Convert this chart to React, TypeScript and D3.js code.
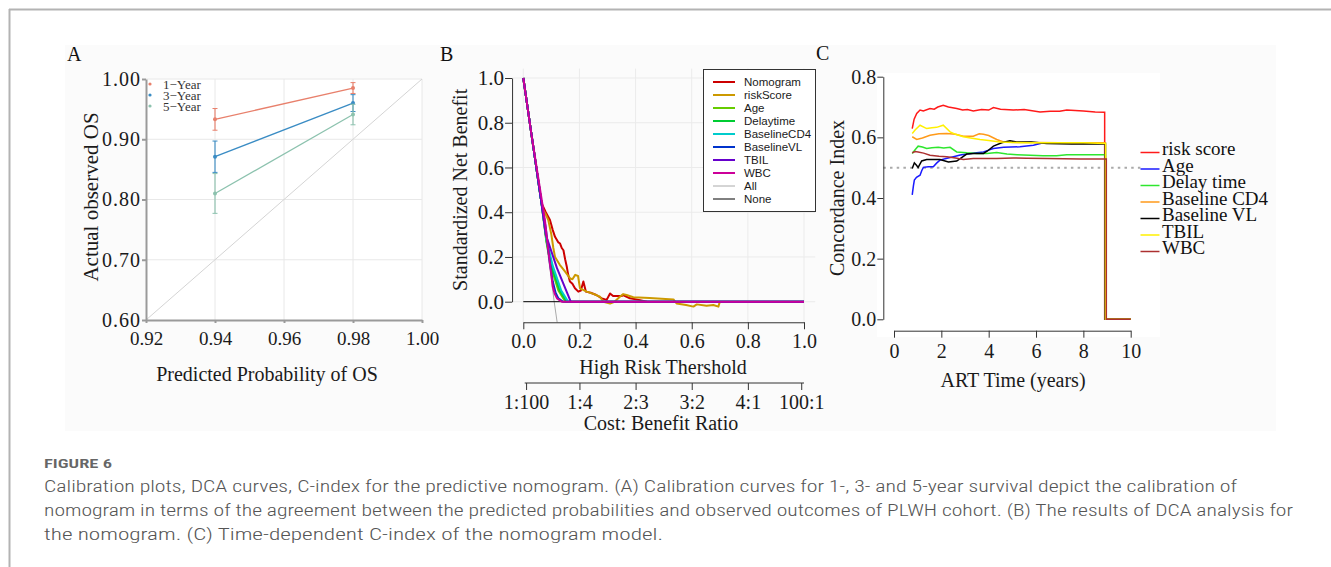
import React, { useEffect, useRef } from 'react';
import * as d3 from 'd3';

type Pt = [number, number];

// ---- Panel A: calibration curves ----
const calNames = ['1−Year', '3−Year', '5−Year'];
const calColors = ['#e8806c', '#3a8cc4', '#8cc2ae'];
const calPredicted = [0.94, 0.98];
const calObserved = [
  [0.933, 0.985],
  [0.871, 0.96],
  [0.81, 0.941],
];
const calLower = [
  [0.915, 0.976],
  [0.845, 0.946],
  [0.777, 0.924],
];
const calUpper = [
  [0.951, 0.994],
  [0.897, 0.974],
  [0.843, 0.958],
];
const calXTicks = [0.92, 0.94, 0.96, 0.98, 1.0];
const calYTicks = [0.6, 0.7, 0.8, 0.9, 1.0];

// ---- Panel B: decision curves ----
const dcaNames = ['Nomogram', 'riskScore', 'Age', 'Delaytime', 'BaselineCD4', 'BaselineVL', 'TBIL', 'WBC', 'All', 'None'];
const dcaColors = ['#cc0000', '#cc9900', '#66cc00', '#00cc33', '#00cccc', '#0033cc', '#6600cc', '#cc0099', '#aaaaaa', '#000000'];
const nbNomogram: Pt[] = [
  [0, 1], [0.03, 0.74], [0.065, 0.44], [0.08, 0.4], [0.095, 0.365], [0.105, 0.32], [0.113, 0.29],
  [0.125, 0.265], [0.131, 0.26], [0.137, 0.24], [0.143, 0.23], [0.149, 0.19], [0.155, 0.156],
  [0.16, 0.12], [0.166, 0.09], [0.175, 0.08], [0.184, 0.06], [0.196, 0.045], [0.205, 0.05],
  [0.214, 0.09], [0.218, 0.07], [0.223, 0.045], [0.24, 0.04], [0.26, 0.03], [0.28, 0.015],
  [0.297, 0.008], [0.309, 0.037], [0.32, 0.025], [0.35, 0.025], [0.355, 0.03], [0.38, 0.015],
  [0.416, 0.007], [0.44, 0],
];
const nbRiskScore: Pt[] = [
  [0, 1], [0.03, 0.74], [0.065, 0.44], [0.071, 0.41], [0.08, 0.39], [0.089, 0.365], [0.1, 0.3],
  [0.107, 0.24], [0.113, 0.2], [0.13, 0.165], [0.149, 0.134], [0.166, 0.105], [0.175, 0.1],
  [0.185, 0.12], [0.195, 0.115], [0.202, 0.06], [0.226, 0.045], [0.25, 0.035], [0.273, 0.022],
  [0.285, 0], [0.309, -0.008], [0.325, 0], [0.344, 0.022], [0.356, 0.034], [0.368, 0.03],
  [0.392, 0.02], [0.45, 0.016], [0.535, 0.01], [0.546, -0.008], [0.58, -0.015], [0.606, -0.022],
  [0.618, -0.012], [0.653, -0.018], [0.677, -0.015], [0.695, -0.022], [0.7, 0],
];
const nbAge: Pt[] = [[0, 1], [0.03, 0.74], [0.065, 0.44], [0.082, 0.27], [0.1, 0.15], [0.125, 0.05], [0.15, 0], [1, 0]];
const nbDelaytime: Pt[] = [[0, 1], [0.03, 0.74], [0.065, 0.44], [0.083, 0.27], [0.1, 0.16], [0.13, 0.05], [0.155, 0], [1, 0]];
const nbBaselineCD4: Pt[] = [[0, 1], [0.03, 0.74], [0.065, 0.44], [0.084, 0.27], [0.105, 0.16], [0.135, 0.05], [0.16, 0], [1, 0]];
const nbBaselineVL: Pt[] = [[0, 1], [0.03, 0.74], [0.065, 0.44], [0.08, 0.33], [0.095, 0.17], [0.105, 0.09], [0.115, 0.04], [0.125, 0.015], [0.142, 0], [1, 0]];
const nbTBIL: Pt[] = [[0, 1], [0.03, 0.74], [0.065, 0.44], [0.08, 0.3], [0.12, 0.15], [0.169, 0], [1, 0]];
const nbWBC: Pt[] = [[0, 1], [0.03, 0.74], [0.077, 0.365], [0.09, 0.22], [0.1, 0.12], [0.105, 0.067], [0.112, 0.035], [0.12, 0.015], [0.137, 0], [1, 0]];
const nbAll: Pt[] = [[0, 1], [0.05, 0.56], [0.1, 0.1], [0.11, 0], [0.125, -0.13]];
const nbNone: Pt[] = [[0, 0], [1, 0]];
const dcaTicks = [0, 0.2, 0.4, 0.6, 0.8, 1.0];
const costThresholds = [1 / 101, 0.2, 0.4, 0.6, 0.8, 100 / 101];
const costLabels = ['1:100', '1:4', '2:3', '3:2', '4:1', '100:1'];

// ---- Panel C: time-dependent C-index ----
const cNames = ['risk score', 'Age', 'Delay time', 'Baseline CD4', 'Baseline VL', 'TBIL', 'WBC'];
const cColors = ['#ff1a1a', '#1a1aff', '#2ee62e', '#ff9a1a', '#000000', '#fff000', '#ac3030'];
const cRiskScore: Pt[] = [
  [0.77, 0.629], [0.85, 0.66], [0.96, 0.679], [1.1, 0.69], [1.24, 0.687], [1.52, 0.695], [1.7, 0.693],
  [1.85, 0.7], [2.08, 0.706], [2.3, 0.7], [2.65, 0.695], [2.9, 0.69], [3.1, 0.692], [3.35, 0.687],
  [3.7, 0.692], [4.0, 0.69], [4.2, 0.698], [4.5, 0.693], [5.04, 0.69], [5.5, 0.692], [6.17, 0.684],
  [6.6, 0.686], [7.0, 0.686], [7.3, 0.69], [8.0, 0.687], [8.5, 0.684], [8.9, 0.683], [8.9, 0], [10, 0],
];
const cAge: Pt[] = [
  [0.77, 0.41], [0.82, 0.44], [0.86, 0.459], [0.95, 0.468], [1.1, 0.475], [1.17, 0.49], [1.24, 0.501],
  [1.45, 0.503], [1.66, 0.503], [1.8, 0.515], [1.94, 0.525], [2.2, 0.53], [2.51, 0.536], [2.8, 0.542],
  [3.07, 0.545], [3.4, 0.548], [3.78, 0.552], [4.0, 0.558], [4.2, 0.563], [4.63, 0.567], [5.32, 0.569],
  [5.89, 0.574], [6.31, 0.582], [7.0, 0.582], [8.0, 0.581], [8.93, 0.581], [8.93, 0], [10, 0],
];
const cDelay: Pt[] = [
  [0.77, 0.547], [0.9, 0.56], [1.02, 0.571], [1.2, 0.568], [1.38, 0.563], [1.6, 0.566], [1.87, 0.567],
  [2.1, 0.565], [2.37, 0.567], [2.65, 0.552], [3.07, 0.549], [3.5, 0.547], [3.92, 0.547], [4.34, 0.55],
  [4.77, 0.545], [5.2, 0.543], [5.75, 0.541], [6.3, 0.539], [6.87, 0.539], [7.3, 0.543], [8.0, 0.543],
  [8.93, 0.543], [8.93, 0], [10, 0],
];
const cCD4: Pt[] = [
  [0.77, 0.602], [0.96, 0.593], [1.2, 0.598], [1.52, 0.607], [1.9, 0.612], [2.23, 0.613], [2.6, 0.61],
  [2.93, 0.604], [3.35, 0.604], [3.6, 0.612], [3.78, 0.61], [4.0, 0.606], [4.34, 0.593], [4.63, 0.585],
  [5.2, 0.583], [6.0, 0.583], [7.0, 0.582], [8.0, 0.582], [8.93, 0.582], [8.93, 0], [10, 0],
];
const cVL: Pt[] = [
  [0.77, 0.497], [0.86, 0.516], [0.95, 0.508], [1.02, 0.501], [1.17, 0.522], [1.38, 0.527], [1.94, 0.527],
  [2.3, 0.519], [2.65, 0.522], [3.07, 0.545], [3.4, 0.547], [3.78, 0.547], [3.95, 0.555], [4.2, 0.571],
  [4.55, 0.582], [4.9, 0.589], [5.18, 0.585], [5.8, 0.585], [6.45, 0.58], [7.5, 0.578], [8.93, 0.578],
  [8.93, 0], [10, 0],
];
const cTBIL: Pt[] = [
  [0.77, 0.613], [0.9, 0.625], [1.1, 0.64], [1.38, 0.629], [1.6, 0.632], [1.8, 0.633], [2.08, 0.64],
  [2.37, 0.618], [2.6, 0.61], [2.93, 0.602], [3.3, 0.597], [3.63, 0.593], [4.0, 0.59], [4.48, 0.585],
  [5.0, 0.583], [5.75, 0.582], [7.0, 0.582], [8.0, 0.582], [8.94, 0.58], [8.94, 0], [10, 0],
];
const cWBC: Pt[] = [
  [0.77, 0.549], [0.9, 0.553], [1.02, 0.552], [1.25, 0.548], [1.52, 0.541], [1.9, 0.538], [2.23, 0.536],
  [2.6, 0.532], [2.93, 0.527], [3.35, 0.53], [3.8, 0.53], [4.34, 0.53], [5.04, 0.532], [5.6, 0.531],
  [6.5, 0.53], [7.87, 0.529], [8.97, 0.529], [8.97, 0], [10, 0],
];
const cXTicks = [0, 2, 4, 6, 8, 10];
const cYTicks = [0, 0.2, 0.4, 0.6, 0.8];

const captionTitle = 'FIGURE 6';
const captionLines = [
  'Calibration plots, DCA curves, C-index for the predictive nomogram. (A) Calibration curves for 1-, 3- and 5-year survival depict the calibration of',
  'nomogram in terms of the agreement between the predicted probabilities and observed outcomes of PLWH cohort. (B) The results of DCA analysis for',
  'the nomogram. (C) Time-dependent C-index of the nomogram model.',
];

const serif = '"Liberation Serif", "Times New Roman", serif';
const sans = '"Liberation Sans", Arial, sans-serif';

const App = () => {
  const ref = useRef<SVGSVGElement>(null);

  useEffect(() => {
    const svg = d3.select(ref.current);
    svg.selectAll('*').remove();

    // page frame
    svg.append('line').attr('x1', 9).attr('x2', 1331).attr('y1', 9.5).attr('y2', 9.5).attr('stroke', '#b3b3b3').attr('stroke-width', 2);
    svg.append('line').attr('x1', 9.5).attr('x2', 9.5).attr('y1', 9).attr('y2', 567).attr('stroke', '#b3b3b3').attr('stroke-width', 2);
    svg.append('rect').attr('x', 65).attr('y', 45).attr('width', 1211).attr('height', 386).attr('fill', '#fbfbfb');

    const styleAxis = (g: any, size: number, color: string, width: number) => {
      g.attr('font-family', serif).attr('font-size', size);
      g.select('.domain').attr('stroke', color).attr('stroke-width', width);
      g.selectAll('.tick line').attr('stroke', color).attr('stroke-width', width);
      g.selectAll('.tick text').attr('fill', '#1a1a1a');
    };

    // ================= Panel A =================
    const xA = d3.scaleLinear().domain([0.92, 1.0]).range([146, 422]);
    const yA = d3.scaleLinear().domain([0.6, 1.0]).range([320, 79]);
    const gA = svg.append('g');
    gA.append('rect').attr('x', 146).attr('y', 79).attr('width', 276).attr('height', 241).attr('fill', '#fff');
    gA.selectAll('.gx').data(calXTicks.slice(1)).enter().append('line')
      .attr('x1', (d) => xA(d)).attr('x2', (d) => xA(d)).attr('y1', yA(0.6)).attr('y2', yA(1.0))
      .attr('stroke', '#e8e8e8');
    gA.selectAll('.gy').data(calYTicks.slice(1)).enter().append('line')
      .attr('x1', xA(0.92)).attr('x2', xA(1.0)).attr('y1', (d) => yA(d)).attr('y2', (d) => yA(d))
      .attr('stroke', '#e8e8e8');
    gA.append('line').attr('x1', xA(0.92)).attr('y1', yA(0.6)).attr('x2', xA(1.0)).attr('y2', yA(1.0))
      .attr('stroke', '#d4d4d4').attr('stroke-width', 1);

    const axA_y = gA.append('g').attr('transform', `translate(${xA(0.92)},0)`)
      .call(d3.axisLeft(yA).tickValues(calYTicks).tickFormat(d3.format('.2f')).tickSize(4).tickSizeOuter(0).tickPadding(1));
    styleAxis(axA_y, 20, '#9a9a9a', 2);
    axA_y.selectAll('.tick text').attr('letter-spacing', 1);
    const axA_x = gA.append('g').attr('transform', `translate(0,${yA(0.6)})`)
      .call(d3.axisBottom(xA).tickValues(calXTicks).tickFormat(d3.format('.2f')).tickSize(3).tickSizeOuter(0).tickPadding(9));
    styleAxis(axA_x, 19, '#9a9a9a', 2);

    const lineA = d3.line<Pt>().x((d) => xA(d[0])).y((d) => yA(d[1]));
    calNames.forEach((name, i) => {
      const pts: Pt[] = calPredicted.map((p, j) => [p, calObserved[i][j]]);
      gA.append('path').datum(pts).attr('d', lineA).attr('fill', 'none')
        .attr('stroke', calColors[i]).attr('stroke-width', 1.3);
      calPredicted.forEach((p, j) => {
        const x = xA(p);
        gA.append('line').attr('x1', x).attr('x2', x).attr('y1', yA(calLower[i][j])).attr('y2', yA(calUpper[i][j]))
          .attr('stroke', calColors[i]).attr('stroke-width', 1.3).attr('opacity', 0.85);
        [calLower[i][j], calUpper[i][j]].forEach((v) => {
          gA.append('line').attr('x1', x - 2.5).attr('x2', x + 2.5).attr('y1', yA(v)).attr('y2', yA(v))
            .attr('stroke', calColors[i]).attr('stroke-width', 1);
        });
        gA.append('circle').attr('cx', x).attr('cy', yA(calObserved[i][j])).attr('r', 2).attr('fill', calColors[i]);
      });
      gA.append('circle').attr('cx', 150).attr('cy', 84 + i * 11).attr('r', 1.6).attr('fill', calColors[i]);
      gA.append('text').attr('x', 163).attr('y', 84 + i * 11).attr('dy', '0.35em').text(name)
        .attr('font-family', serif).attr('font-size', 13).attr('fill', '#333');
    });
    gA.append('text').attr('x', 267).attr('y', 381).attr('text-anchor', 'middle').text('Predicted Probability of OS')
      .attr('font-family', serif).attr('font-size', 20).attr('fill', '#1a1a1a');
    gA.append('text').attr('transform', 'translate(98,197) rotate(-90)').attr('text-anchor', 'middle').text('Actual observed OS')
      .attr('font-family', serif).attr('font-size', 21).attr('fill', '#1a1a1a');
    gA.append('text').attr('x', 67).attr('y', 61).text('A').attr('font-family', serif).attr('font-size', 20).attr('fill', '#111');

    // ================= Panel B =================
    const xB = d3.scaleLinear().domain([0, 1]).range([523.3, 804]);
    const yB = d3.scaleLinear().domain([0, 1]).range([301.7, 78]);
    const gB = svg.append('g');
    const rx0 = xB(-0.04), rx1 = xB(1.04), ry0 = yB(1.042), ry1 = yB(-0.092);
    gB.append('clipPath').attr('id', 'clipB').append('rect')
      .attr('x', rx0).attr('y', ry0).attr('width', rx1 - rx0).attr('height', ry1 - ry0);
    gB.selectAll('.gx').data(dcaTicks).enter().append('line')
      .attr('x1', (d) => xB(d)).attr('x2', (d) => xB(d)).attr('y1', ry0).attr('y2', ry1).attr('stroke', '#ebebeb');
    gB.selectAll('.gy').data(dcaTicks).enter().append('line')
      .attr('x1', rx0).attr('x2', rx1).attr('y1', (d) => yB(d)).attr('y2', (d) => yB(d)).attr('stroke', '#ebebeb');

    const lineB = d3.line<Pt>().x((d) => xB(d[0])).y((d) => yB(d[1]));
    const curves = [nbAll, nbNone, nbNomogram, nbRiskScore, nbAge, nbDelaytime, nbBaselineCD4, nbBaselineVL, nbTBIL, nbWBC];
    const curveIdx = [8, 9, 0, 1, 2, 3, 4, 5, 6, 7];
    const gCurves = gB.append('g').attr('clip-path', 'url(#clipB)');
    curves.forEach((c, k) => {
      const i = curveIdx[k];
      gCurves.append('path').datum(c).attr('d', lineB).attr('fill', 'none')
        .attr('stroke', dcaColors[i]).attr('stroke-width', i >= 8 ? 1 : 2).attr('stroke-linejoin', 'round');
    });

    const axB_y = gB.append('g').attr('transform', `translate(${rx0},0)`)
      .call(d3.axisLeft(yB).tickValues(dcaTicks).tickFormat(d3.format('.1f')).tickSize(7).tickSizeOuter(0).tickPadding(1));
    styleAxis(axB_y, 21, '#333', 1);
    const axB_x = gB.append('g').attr('transform', `translate(0,${ry1})`)
      .call(d3.axisBottom(xB).tickValues(dcaTicks).tickFormat(d3.format('.1f')).tickSize(7).tickSizeOuter(0).tickPadding(5));
    styleAxis(axB_x, 20, '#333', 1);
    const axB_cost = gB.append('g').attr('transform', 'translate(0,383)')
      .call(d3.axisBottom(xB).tickValues(costThresholds).tickFormat((d, i) => costLabels[i]).tickSize(7).tickSizeOuter(0).tickPadding(5));
    styleAxis(axB_cost, 20, '#333', 1);
    axB_cost.select('.domain').attr('d', `M${xB(0.005)},0H${xB(1)}`);

    gB.append('text').attr('x', 663).attr('y', 374).attr('text-anchor', 'middle').text('High Risk Thershold')
      .attr('font-family', serif).attr('font-size', 20).attr('fill', '#1a1a1a');
    gB.append('text').attr('x', 661).attr('y', 430).attr('text-anchor', 'middle').text('Cost: Benefit Ratio')
      .attr('font-family', serif).attr('font-size', 20).attr('fill', '#1a1a1a');
    gB.append('text').attr('transform', `translate(467,${yB(0.5)}) rotate(-90)`).attr('text-anchor', 'middle')
      .text('Standardized Net Benefit').attr('font-family', serif).attr('font-size', 20).attr('fill', '#1a1a1a');
    gB.append('text').attr('x', 440).attr('y', 61).text('B').attr('font-family', serif).attr('font-size', 20).attr('fill', '#111');

    // legend
    const lgB = gB.append('g');
    lgB.append('rect').attr('x', 703.5).attr('y', 69.5).attr('width', 112).attr('height', 142)
      .attr('fill', '#fff').attr('stroke', '#333').attr('stroke-width', 1);
    dcaNames.forEach((n, i) => {
      const y = 82 + i * 13;
      lgB.append('line').attr('x1', 713).attr('x2', 735).attr('y1', y).attr('y2', y)
        .attr('stroke', dcaColors[i]).attr('stroke-width', i >= 8 ? 1 : 2);
      lgB.append('text').attr('x', 744).attr('y', y).attr('dy', '0.35em').text(n)
        .attr('font-family', sans).attr('font-size', 11.5).attr('fill', '#1a1a1a');
    });

    // ================= Panel C =================
    const xC = d3.scaleLinear().domain([0, 10]).range([894, 1130.7]);
    const yC = d3.scaleLinear().domain([0, 0.8]).range([319.3, 76.7]);
    const gC = svg.append('g');
    gC.append('rect').attr('x', 877).attr('y', 73).attr('width', 283).attr('height', 264).attr('fill', '#fff');
    gC.append('line').attr('x1', 883.3).attr('x2', 1142).attr('y1', yC(0.5)).attr('y2', yC(0.5))
      .attr('stroke', '#aaaaaa').attr('stroke-width', 2).attr('stroke-dasharray', '2.5,4.2');

    const lineC = d3.line<Pt>().x((d) => xC(d[0])).y((d) => yC(d[1]));
    const cSeries = [cRiskScore, cAge, cDelay, cCD4, cVL, cTBIL, cWBC];
    cSeries.forEach((s, i) => {
      gC.append('path').datum(s).attr('d', lineC).attr('fill', 'none')
        .attr('stroke', cColors[i]).attr('stroke-width', 1.5);
    });

    const axC_y = gC.append('g').attr('transform', 'translate(883.3,0)')
      .call(d3.axisLeft(yC).tickValues(cYTicks).tickFormat(d3.format('.1f')).tickSize(6).tickSizeOuter(0).tickPadding(1));
    styleAxis(axC_y, 20, '#333', 1);
    const axC_x = gC.append('g').attr('transform', 'translate(0,330.7)')
      .call(d3.axisBottom(xC).tickValues(cXTicks).tickFormat(d3.format('d')).tickSize(7).tickSizeOuter(0).tickPadding(6));
    styleAxis(axC_x, 20, '#333', 1);

    gC.append('text').attr('x', 1013).attr('y', 387).attr('text-anchor', 'middle').text('ART Time (years)')
      .attr('font-family', serif).attr('font-size', 20).attr('fill', '#1a1a1a');
    gC.append('text').attr('transform', `translate(844,${yC(0.4)}) rotate(-90)`).attr('text-anchor', 'middle')
      .text('Concordance Index').attr('font-family', serif).attr('font-size', 20).attr('fill', '#1a1a1a');
    gC.append('text').attr('x', 816).attr('y', 60).text('C').attr('font-family', serif).attr('font-size', 20).attr('fill', '#111');

    cNames.forEach((n, i) => {
      const base = 155 + i * 16.5;
      gC.append('line').attr('x1', 1140.5).attr('x2', 1159.5).attr('y1', base - 2.5).attr('y2', base - 2.5)
        .attr('stroke', cColors[i]).attr('stroke-width', 1.5);
      gC.append('text').attr('x', 1162).attr('y', base).text(n)
        .attr('font-family', serif).attr('font-size', 19).attr('fill', '#111');
    });

    // ================= Caption =================
    const capFont = '"Liberation Sans Narrow", "Roboto Condensed", "Noto Sans", sans-serif';
    svg.append('text').attr('x', 44).attr('y', 468).text(captionTitle)
      .attr('font-family', capFont).attr('font-size', 13).attr('font-weight', 600).attr('fill', '#666')
      .attr('textLength', 68).attr('lengthAdjust', 'spacingAndGlyphs');
    const capWidths = [1193, 1249, 619];
    captionLines.forEach((t, i) => {
      svg.append('text').attr('x', 44).attr('y', 492 + i * 24).text(t)
        .attr('font-family', capFont).attr('font-size', 17).attr('font-weight', 300).attr('fill', '#555')
        .attr('textLength', capWidths[i]).attr('lengthAdjust', 'spacingAndGlyphs');
    });
  }, []);

  return (
    <svg
      ref={ref}
      width={1331}
      height={567}
      style={{ position: 'absolute', left: 0, top: 0, background: '#fff' }}
    />
  );
};

export default App;
